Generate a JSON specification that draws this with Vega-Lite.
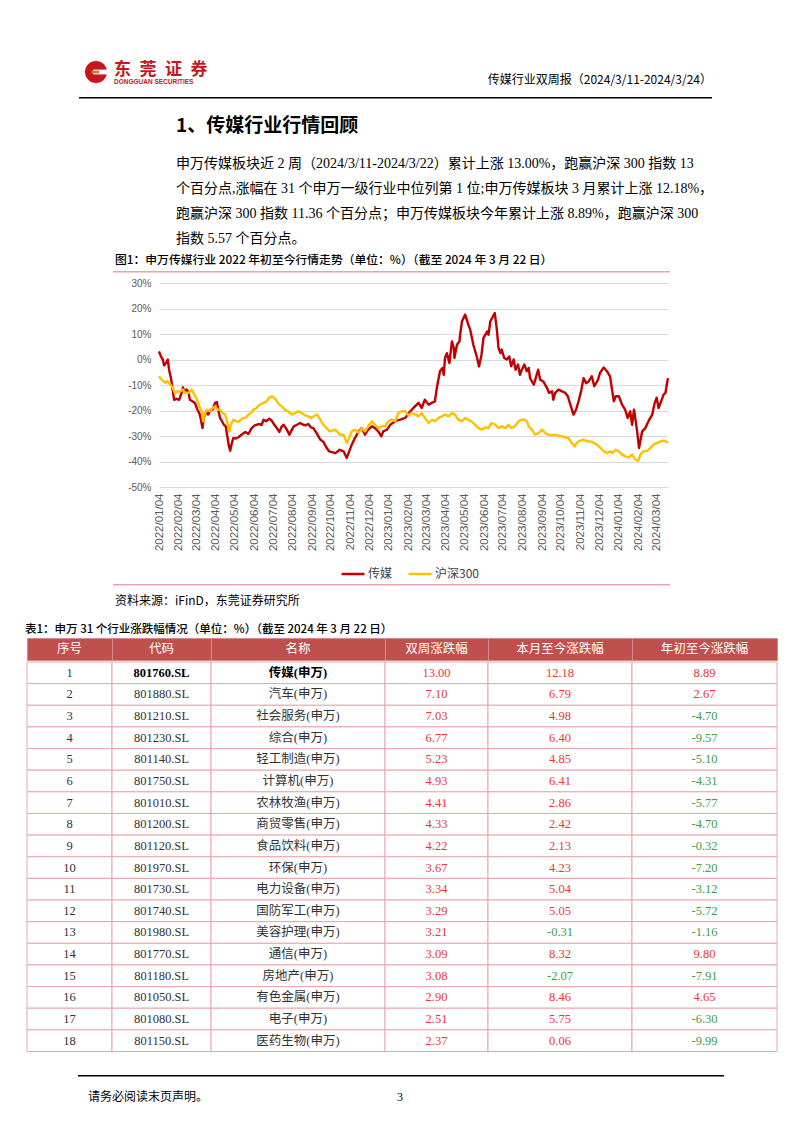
{
"$schema": "https://vega.github.io/schema/vega-lite/v6.json",
"background": "white",
"padding": 0,
"spacing": 0,
"config": {"view": {"stroke": null}, "concat": {"spacing": 0}, "font": "Noto Sans CJK SC",
  "locale": {"number": {"decimal": ".", "thousands": ",", "grouping": [3], "currency": ["", ""], "minus": "-"}}},
"datasets": {
"tbl": [
{"rank":1,"code":"801760.SL","name":"传媒(申万)","w2":13.00,"mtd":12.18,"ytd":8.89},
{"rank":2,"code":"801880.SL","name":"汽车(申万)","w2":7.10,"mtd":6.79,"ytd":2.67},
{"rank":3,"code":"801210.SL","name":"社会服务(申万)","w2":7.03,"mtd":4.98,"ytd":-4.70},
{"rank":4,"code":"801230.SL","name":"综合(申万)","w2":6.77,"mtd":6.40,"ytd":-9.57},
{"rank":5,"code":"801140.SL","name":"轻工制造(申万)","w2":5.23,"mtd":4.85,"ytd":-5.10},
{"rank":6,"code":"801750.SL","name":"计算机(申万)","w2":4.93,"mtd":6.41,"ytd":-4.31},
{"rank":7,"code":"801010.SL","name":"农林牧渔(申万)","w2":4.41,"mtd":2.86,"ytd":-5.77},
{"rank":8,"code":"801200.SL","name":"商贸零售(申万)","w2":4.33,"mtd":2.42,"ytd":-4.70},
{"rank":9,"code":"801120.SL","name":"食品饮料(申万)","w2":4.22,"mtd":2.13,"ytd":-0.32},
{"rank":10,"code":"801970.SL","name":"环保(申万)","w2":3.67,"mtd":4.23,"ytd":-7.20},
{"rank":11,"code":"801730.SL","name":"电力设备(申万)","w2":3.34,"mtd":5.04,"ytd":-3.12},
{"rank":12,"code":"801740.SL","name":"国防军工(申万)","w2":3.29,"mtd":5.05,"ytd":-5.72},
{"rank":13,"code":"801980.SL","name":"美容护理(申万)","w2":3.21,"mtd":-0.31,"ytd":-1.16},
{"rank":14,"code":"801770.SL","name":"通信(申万)","w2":3.09,"mtd":8.32,"ytd":9.80},
{"rank":15,"code":"801180.SL","name":"房地产(申万)","w2":3.08,"mtd":-2.07,"ytd":-7.91},
{"rank":16,"code":"801050.SL","name":"有色金属(申万)","w2":2.90,"mtd":8.46,"ytd":4.65},
{"rank":17,"code":"801080.SL","name":"电子(申万)","w2":2.51,"mtd":5.75,"ytd":-6.30},
{"rank":18,"code":"801150.SL","name":"医药生物(申万)","w2":2.37,"mtd":0.06,"ytd":-9.99}
],
"lines": [
{"s":"传媒","d":"2022-01-04","v":3.2},{"s":"传媒","d":"2022-01-07","v":1.2},{"s":"传媒","d":"2022-01-10","v":0},{"s":"传媒","d":"2022-01-12","v":-2.3},{"s":"传媒","d":"2022-01-15","v":-1.4},{"s":"传媒","d":"2022-01-18","v":0},{"s":"传媒","d":"2022-01-20","v":-4},{"s":"传媒","d":"2022-01-23","v":-7.3},{"s":"传媒","d":"2022-01-26","v":-12.5},{"s":"传媒","d":"2022-01-28","v":-15.8},
{"s":"传媒","d":"2022-02-01","v":-15.4},{"s":"传媒","d":"2022-02-05","v":-15.8},{"s":"传媒","d":"2022-02-08","v":-13.8},{"s":"传媒","d":"2022-02-11","v":-10.9},{"s":"传媒","d":"2022-02-13","v":-12.5},{"s":"传媒","d":"2022-02-17","v":-11.8},{"s":"传媒","d":"2022-02-20","v":-13.1},{"s":"传媒","d":"2022-02-22","v":-15.8},{"s":"传媒","d":"2022-02-26","v":-16.4},
{"s":"传媒","d":"2022-03-02","v":-17},{"s":"传媒","d":"2022-03-06","v":-19.7},{"s":"传媒","d":"2022-03-09","v":-21},{"s":"传媒","d":"2022-03-11","v":-23},{"s":"传媒","d":"2022-03-14","v":-26.9},{"s":"传媒","d":"2022-03-16","v":-23},{"s":"传媒","d":"2022-03-20","v":-20.3},{"s":"传媒","d":"2022-03-23","v":-21.6},{"s":"传媒","d":"2022-03-27","v":-19.7},{"s":"传媒","d":"2022-03-30","v":-19.7},
{"s":"传媒","d":"2022-04-03","v":-17},{"s":"传媒","d":"2022-04-06","v":-16.7},{"s":"传媒","d":"2022-04-08","v":-19.7},{"s":"传媒","d":"2022-04-11","v":-23},{"s":"传媒","d":"2022-04-13","v":-23.7},{"s":"传媒","d":"2022-04-17","v":-25.6},{"s":"传媒","d":"2022-04-20","v":-26.2},{"s":"传媒","d":"2022-04-22","v":-29.5},{"s":"传媒","d":"2022-04-25","v":-34},{"s":"传媒","d":"2022-04-27","v":-35.8},{"s":"传媒","d":"2022-04-29","v":-33.4},
{"s":"传媒","d":"2022-05-02","v":-30.8},{"s":"传媒","d":"2022-05-06","v":-31},{"s":"传媒","d":"2022-05-10","v":-30.5},{"s":"传媒","d":"2022-05-15","v":-29.5},{"s":"传媒","d":"2022-05-21","v":-28.4},{"s":"传媒","d":"2022-05-26","v":-29.2},{"s":"传媒","d":"2022-05-31","v":-26.9},
{"s":"传媒","d":"2022-06-05","v":-25.8},{"s":"传媒","d":"2022-06-11","v":-25.3},{"s":"传媒","d":"2022-06-16","v":-25.6},{"s":"传媒","d":"2022-06-19","v":-23.6},{"s":"传媒","d":"2022-06-23","v":-24.2},{"s":"传媒","d":"2022-06-28","v":-23.2},
{"s":"传媒","d":"2022-07-02","v":-24},{"s":"传媒","d":"2022-07-06","v":-25.6},{"s":"传媒","d":"2022-07-10","v":-26.9},{"s":"传媒","d":"2022-07-14","v":-28.4},{"s":"传媒","d":"2022-07-18","v":-26.2},{"s":"传媒","d":"2022-07-21","v":-25.6},{"s":"传媒","d":"2022-07-26","v":-27.5},{"s":"传媒","d":"2022-07-30","v":-29.5},
{"s":"传媒","d":"2022-08-03","v":-27.5},{"s":"传媒","d":"2022-08-06","v":-26.2},{"s":"传媒","d":"2022-08-11","v":-25.6},{"s":"传媒","d":"2022-08-16","v":-24.9},{"s":"传媒","d":"2022-08-21","v":-25.6},{"s":"传媒","d":"2022-08-25","v":-25.8},{"s":"传媒","d":"2022-08-29","v":-25.3},
{"s":"传媒","d":"2022-09-02","v":-26.6},{"s":"传媒","d":"2022-09-06","v":-26.9},{"s":"传媒","d":"2022-09-11","v":-28.8},{"s":"传媒","d":"2022-09-17","v":-31.4},{"s":"传媒","d":"2022-09-22","v":-32.3},{"s":"传媒","d":"2022-09-27","v":-34.6},
{"s":"传媒","d":"2022-10-01","v":-36},{"s":"传媒","d":"2022-10-11","v":-36.7},{"s":"传媒","d":"2022-10-18","v":-35.4},{"s":"传媒","d":"2022-10-24","v":-36},{"s":"传媒","d":"2022-10-29","v":-38.6},
{"s":"传媒","d":"2022-11-06","v":-33.4},{"s":"传媒","d":"2022-11-11","v":-30.8},{"s":"传媒","d":"2022-11-17","v":-28.2},{"s":"传媒","d":"2022-11-22","v":-26.9},{"s":"传媒","d":"2022-11-27","v":-29.5},
{"s":"传媒","d":"2022-12-02","v":-27.5},{"s":"传媒","d":"2022-12-08","v":-26.2},{"s":"传媒","d":"2022-12-13","v":-26.9},{"s":"传媒","d":"2022-12-18","v":-28.2},{"s":"传媒","d":"2022-12-23","v":-30.1},{"s":"传媒","d":"2022-12-26","v":-28.2},
{"s":"传媒","d":"2023-01-01","v":-27.5},{"s":"传媒","d":"2023-01-06","v":-25.6},{"s":"传媒","d":"2023-01-14","v":-24.2},{"s":"传媒","d":"2023-01-22","v":-23.6},{"s":"传媒","d":"2023-01-30","v":-22.9},
{"s":"传媒","d":"2023-02-07","v":-20.3},{"s":"传媒","d":"2023-02-12","v":-19},{"s":"传媒","d":"2023-02-20","v":-17},{"s":"传媒","d":"2023-02-25","v":-19},
{"s":"传媒","d":"2023-03-02","v":-15.8},{"s":"传媒","d":"2023-03-08","v":-17.7},{"s":"传媒","d":"2023-03-13","v":-17},{"s":"传媒","d":"2023-03-18","v":-16.4},{"s":"传媒","d":"2023-03-21","v":-11.2},{"s":"传媒","d":"2023-03-26","v":-4.6},{"s":"传媒","d":"2023-03-30","v":-3.3},
{"s":"传媒","d":"2023-04-01","v":-6},{"s":"传媒","d":"2023-04-03","v":0.6},{"s":"传媒","d":"2023-04-06","v":2.5},{"s":"传媒","d":"2023-04-10","v":-1.4},{"s":"传媒","d":"2023-04-14","v":7.1},{"s":"传媒","d":"2023-04-17","v":4.5},{"s":"传媒","d":"2023-04-18","v":0.6},{"s":"传媒","d":"2023-04-22","v":5.8},{"s":"传媒","d":"2023-04-26","v":7.1},{"s":"传媒","d":"2023-04-27","v":9.7},{"s":"传媒","d":"2023-04-30","v":15},
{"s":"传媒","d":"2023-05-05","v":17.6},{"s":"传媒","d":"2023-05-10","v":13.7},{"s":"传媒","d":"2023-05-13","v":11.7},{"s":"传媒","d":"2023-05-18","v":5.8},{"s":"传媒","d":"2023-05-24","v":0.6},{"s":"传媒","d":"2023-05-27","v":-2.7},{"s":"传媒","d":"2023-05-31","v":1.9},
{"s":"传媒","d":"2023-06-03","v":8.4},{"s":"传媒","d":"2023-06-09","v":11},{"s":"传媒","d":"2023-06-11","v":9.7},{"s":"传媒","d":"2023-06-14","v":15},{"s":"传媒","d":"2023-06-21","v":18.2},{"s":"传媒","d":"2023-06-24","v":12.4},{"s":"传媒","d":"2023-06-27","v":4.5},{"s":"传媒","d":"2023-06-30","v":2.5},
{"s":"传媒","d":"2023-07-02","v":3.9},{"s":"传媒","d":"2023-07-06","v":0.6},{"s":"传媒","d":"2023-07-10","v":0},{"s":"传媒","d":"2023-07-14","v":1.2},{"s":"传媒","d":"2023-07-17","v":-2.7},{"s":"传媒","d":"2023-07-21","v":0},{"s":"传媒","d":"2023-07-24","v":-4},{"s":"传媒","d":"2023-07-28","v":-2},{"s":"传媒","d":"2023-07-31","v":-6},
{"s":"传媒","d":"2023-08-03","v":-4},{"s":"传媒","d":"2023-08-07","v":-2},{"s":"传媒","d":"2023-08-11","v":-4.6},{"s":"传媒","d":"2023-08-14","v":-3.3},{"s":"传媒","d":"2023-08-16","v":-7.3},{"s":"传媒","d":"2023-08-22","v":-9.9},{"s":"传媒","d":"2023-08-25","v":-7.3},{"s":"传媒","d":"2023-08-29","v":-4},
{"s":"传媒","d":"2023-09-01","v":-7.9},{"s":"传媒","d":"2023-09-06","v":-8.6},{"s":"传媒","d":"2023-09-12","v":-11.2},{"s":"传媒","d":"2023-09-15","v":-13.1},{"s":"传媒","d":"2023-09-20","v":-12.5},{"s":"传媒","d":"2023-09-22","v":-15.8},{"s":"传媒","d":"2023-09-25","v":-13.1},{"s":"传媒","d":"2023-09-30","v":-11.8},
{"s":"传媒","d":"2023-10-06","v":-12.5},{"s":"传媒","d":"2023-10-11","v":-13.1},{"s":"传媒","d":"2023-10-15","v":-14.4},{"s":"传媒","d":"2023-10-19","v":-17.7},{"s":"传媒","d":"2023-10-24","v":-21.6},{"s":"传媒","d":"2023-10-28","v":-19.7},
{"s":"传媒","d":"2023-11-01","v":-16.4},{"s":"传媒","d":"2023-11-05","v":-12.5},{"s":"传媒","d":"2023-11-09","v":-7.3},{"s":"传媒","d":"2023-11-13","v":-9.3},{"s":"传媒","d":"2023-11-17","v":-8.6},{"s":"传媒","d":"2023-11-22","v":-6.6},{"s":"传媒","d":"2023-11-26","v":-10.5},
{"s":"传媒","d":"2023-12-02","v":-7.9},{"s":"传媒","d":"2023-12-05","v":-5.3},{"s":"传媒","d":"2023-12-11","v":-3.1},{"s":"传媒","d":"2023-12-16","v":-4.6},{"s":"传媒","d":"2023-12-21","v":-6.6},{"s":"传媒","d":"2023-12-27","v":-16.4},{"s":"传媒","d":"2023-12-30","v":-14.4},
{"s":"传媒","d":"2024-01-04","v":-14.4},{"s":"传媒","d":"2024-01-09","v":-17.7},{"s":"传媒","d":"2024-01-14","v":-19.7},{"s":"传媒","d":"2024-01-18","v":-22.9},{"s":"传媒","d":"2024-01-22","v":-20.3},{"s":"传媒","d":"2024-01-25","v":-25.6},{"s":"传媒","d":"2024-01-28","v":-19.7},{"s":"传媒","d":"2024-01-30","v":-22.9},
{"s":"传媒","d":"2024-02-02","v":-28.2},{"s":"传媒","d":"2024-02-05","v":-34.7},{"s":"传媒","d":"2024-02-10","v":-28.2},{"s":"传媒","d":"2024-02-15","v":-26.9},{"s":"传媒","d":"2024-02-20","v":-24.2},{"s":"传媒","d":"2024-02-26","v":-21.6},
{"s":"传媒","d":"2024-03-01","v":-17},{"s":"传媒","d":"2024-03-04","v":-15},{"s":"传媒","d":"2024-03-07","v":-19},{"s":"传媒","d":"2024-03-11","v":-16.4},{"s":"传媒","d":"2024-03-15","v":-13.8},{"s":"传媒","d":"2024-03-18","v":-13.1},{"s":"传媒","d":"2024-03-20","v":-9.9},{"s":"传媒","d":"2024-03-22","v":-7.3},
{"s":"沪深300","d":"2022-01-04","v":-6.6},{"s":"沪深300","d":"2022-01-08","v":-7.9},{"s":"沪深300","d":"2022-01-14","v":-9.2},{"s":"沪深300","d":"2022-01-17","v":-8.5},{"s":"沪深300","d":"2022-01-22","v":-9.9},{"s":"沪深300","d":"2022-01-26","v":-11.2},{"s":"沪深300","d":"2022-01-29","v":-13.1},
{"s":"沪深300","d":"2022-02-02","v":-12.5},{"s":"沪深300","d":"2022-02-06","v":-12.5},{"s":"沪深300","d":"2022-02-11","v":-11.8},{"s":"沪深300","d":"2022-02-14","v":-13.1},{"s":"沪深300","d":"2022-02-20","v":-13.1},{"s":"沪深300","d":"2022-02-25","v":-11.8},
{"s":"沪深300","d":"2022-03-01","v":-13.8},{"s":"沪深300","d":"2022-03-05","v":-15.4},{"s":"沪深300","d":"2022-03-09","v":-18.4},{"s":"沪深300","d":"2022-03-13","v":-20.3},{"s":"沪深300","d":"2022-03-15","v":-24.2},{"s":"沪深300","d":"2022-03-18","v":-21},{"s":"沪深300","d":"2022-03-22","v":-19.7},{"s":"沪深300","d":"2022-03-26","v":-20.3},{"s":"沪深300","d":"2022-03-30","v":-19},
{"s":"沪深300","d":"2022-04-03","v":-18.4},{"s":"沪深300","d":"2022-04-07","v":-19.7},{"s":"沪深300","d":"2022-04-11","v":-19.7},{"s":"沪深300","d":"2022-04-15","v":-21},{"s":"沪深300","d":"2022-04-19","v":-21.6},{"s":"沪深300","d":"2022-04-22","v":-24.2},{"s":"沪深300","d":"2022-04-26","v":-28.2},{"s":"沪深300","d":"2022-04-28","v":-25.6},
{"s":"沪深300","d":"2022-05-02","v":-23.6},{"s":"沪深300","d":"2022-05-06","v":-24.2},{"s":"沪深300","d":"2022-05-10","v":-24.5},{"s":"沪深300","d":"2022-05-14","v":-23.6},{"s":"沪深300","d":"2022-05-18","v":-22.9},{"s":"沪深300","d":"2022-05-22","v":-22.9},{"s":"沪深300","d":"2022-05-26","v":-21.6},{"s":"沪深300","d":"2022-05-30","v":-21},
{"s":"沪深300","d":"2022-06-03","v":-19.7},{"s":"沪深300","d":"2022-06-08","v":-19},{"s":"沪深300","d":"2022-06-13","v":-17.7},{"s":"沪深300","d":"2022-06-19","v":-17},{"s":"沪深300","d":"2022-06-24","v":-16.4},{"s":"沪深300","d":"2022-06-28","v":-15},
{"s":"沪深300","d":"2022-07-02","v":-14.4},{"s":"沪深300","d":"2022-07-06","v":-15},{"s":"沪深300","d":"2022-07-10","v":-16.4},{"s":"沪深300","d":"2022-07-14","v":-17.7},{"s":"沪深300","d":"2022-07-18","v":-18.4},{"s":"沪深300","d":"2022-07-23","v":-19.7},{"s":"沪深300","d":"2022-07-28","v":-20.3},
{"s":"沪深300","d":"2022-08-03","v":-21.6},{"s":"沪深300","d":"2022-08-08","v":-21},{"s":"沪深300","d":"2022-08-13","v":-20.3},{"s":"沪深300","d":"2022-08-19","v":-21},{"s":"沪深300","d":"2022-08-24","v":-21.9},{"s":"沪深300","d":"2022-08-29","v":-22.3},
{"s":"沪深300","d":"2022-09-03","v":-22.9},{"s":"沪深300","d":"2022-09-09","v":-21.9},{"s":"沪深300","d":"2022-09-12","v":-21.6},{"s":"沪深300","d":"2022-09-17","v":-23.6},{"s":"沪深300","d":"2022-09-22","v":-25.6},{"s":"沪深300","d":"2022-09-27","v":-26.9},
{"s":"沪深300","d":"2022-10-02","v":-28.2},{"s":"沪深300","d":"2022-10-11","v":-27.5},{"s":"沪深300","d":"2022-10-18","v":-29.5},{"s":"沪深300","d":"2022-10-24","v":-29.5},{"s":"沪深300","d":"2022-10-29","v":-32.7},
{"s":"沪深300","d":"2022-11-02","v":-30.8},{"s":"沪深300","d":"2022-11-06","v":-28.2},{"s":"沪深300","d":"2022-11-11","v":-27.5},{"s":"沪深300","d":"2022-11-17","v":-28.8},{"s":"沪深300","d":"2022-11-22","v":-26.9},{"s":"沪深300","d":"2022-11-27","v":-28.2},
{"s":"沪深300","d":"2022-12-02","v":-26.2},{"s":"沪深300","d":"2022-12-08","v":-24.2},{"s":"沪深300","d":"2022-12-13","v":-25.6},{"s":"沪深300","d":"2022-12-18","v":-26.9},{"s":"沪深300","d":"2022-12-24","v":-26.2},{"s":"沪深300","d":"2022-12-29","v":-26.2},
{"s":"沪深300","d":"2023-01-03","v":-24.2},{"s":"沪深300","d":"2023-01-08","v":-23.6},{"s":"沪深300","d":"2023-01-14","v":-24.2},{"s":"沪深300","d":"2023-01-19","v":-21},{"s":"沪深300","d":"2023-01-24","v":-20.3},{"s":"沪深300","d":"2023-01-30","v":-20.3},
{"s":"沪深300","d":"2023-02-04","v":-21.9},{"s":"沪深300","d":"2023-02-09","v":-21},{"s":"沪深300","d":"2023-02-15","v":-21.6},{"s":"沪深300","d":"2023-02-20","v":-22.3},{"s":"沪深300","d":"2023-02-25","v":-21},
{"s":"沪深300","d":"2023-03-02","v":-22.9},{"s":"沪深300","d":"2023-03-08","v":-24.9},{"s":"沪深300","d":"2023-03-13","v":-23.6},{"s":"沪深300","d":"2023-03-18","v":-24.2},{"s":"沪深300","d":"2023-03-24","v":-22.9},{"s":"沪深300","d":"2023-03-29","v":-22.3},
{"s":"沪深300","d":"2023-04-03","v":-21.6},{"s":"沪深300","d":"2023-04-09","v":-22.3},{"s":"沪深300","d":"2023-04-14","v":-21},{"s":"沪深300","d":"2023-04-19","v":-21.6},{"s":"沪深300","d":"2023-04-24","v":-23.6},{"s":"沪深300","d":"2023-04-30","v":-24.2},
{"s":"沪深300","d":"2023-05-05","v":-22.9},{"s":"沪深300","d":"2023-05-10","v":-23.6},{"s":"沪深300","d":"2023-05-16","v":-24.5},{"s":"沪深300","d":"2023-05-21","v":-25.6},{"s":"沪深300","d":"2023-05-26","v":-26.9},
{"s":"沪深300","d":"2023-06-01","v":-27.5},{"s":"沪深300","d":"2023-06-06","v":-26.6},{"s":"沪深300","d":"2023-06-11","v":-26.9},{"s":"沪深300","d":"2023-06-16","v":-24.9},{"s":"沪深300","d":"2023-06-22","v":-25.6},{"s":"沪深300","d":"2023-06-27","v":-26.9},
{"s":"沪深300","d":"2023-07-02","v":-26.2},{"s":"沪深300","d":"2023-07-08","v":-26.9},{"s":"沪深300","d":"2023-07-13","v":-25.6},{"s":"沪深300","d":"2023-07-18","v":-26.9},{"s":"沪深300","d":"2023-07-23","v":-26.2},{"s":"沪深300","d":"2023-07-29","v":-24.2},
{"s":"沪深300","d":"2023-08-02","v":-23.6},{"s":"沪深300","d":"2023-08-07","v":-23.6},{"s":"沪深300","d":"2023-08-11","v":-24.2},{"s":"沪深300","d":"2023-08-14","v":-26.2},{"s":"沪深300","d":"2023-08-19","v":-27.5},{"s":"沪深300","d":"2023-08-24","v":-29.5},{"s":"沪深300","d":"2023-08-30","v":-28.8},
{"s":"沪深300","d":"2023-09-04","v":-27.5},{"s":"沪深300","d":"2023-09-09","v":-28.8},{"s":"沪深300","d":"2023-09-14","v":-29.5},{"s":"沪深300","d":"2023-09-20","v":-29.7},{"s":"沪深300","d":"2023-09-25","v":-29.5},{"s":"沪深300","d":"2023-09-30","v":-29.9},
{"s":"沪深300","d":"2023-10-06","v":-30.1},{"s":"沪深300","d":"2023-10-11","v":-30.5},{"s":"沪深300","d":"2023-10-16","v":-30.8},{"s":"沪深300","d":"2023-10-21","v":-32.7},{"s":"沪深300","d":"2023-10-26","v":-34.1},{"s":"沪深300","d":"2023-10-29","v":-32.7},
{"s":"沪深300","d":"2023-11-04","v":-31.8},{"s":"沪深300","d":"2023-11-09","v":-31.4},{"s":"沪深300","d":"2023-11-14","v":-32.1},{"s":"沪深300","d":"2023-11-20","v":-32.1},{"s":"沪深300","d":"2023-11-25","v":-32.7},{"s":"沪深300","d":"2023-11-30","v":-33.4},
{"s":"沪深300","d":"2023-12-06","v":-34.7},{"s":"沪深300","d":"2023-12-11","v":-36},{"s":"沪深300","d":"2023-12-16","v":-36.7},{"s":"沪深300","d":"2023-12-21","v":-36},{"s":"沪深300","d":"2023-12-25","v":-36.7},{"s":"沪深300","d":"2023-12-30","v":-35.4},
{"s":"沪深300","d":"2024-01-04","v":-36},{"s":"沪深300","d":"2024-01-09","v":-37.3},{"s":"沪深300","d":"2024-01-14","v":-38},{"s":"沪深300","d":"2024-01-20","v":-38.4},{"s":"沪深300","d":"2024-01-25","v":-37.3},{"s":"沪深300","d":"2024-01-30","v":-39.3},
{"s":"沪深300","d":"2024-02-04","v":-39.7},{"s":"沪深300","d":"2024-02-07","v":-37.3},{"s":"沪深300","d":"2024-02-12","v":-36},{"s":"沪深300","d":"2024-02-18","v":-35.8},{"s":"沪深300","d":"2024-02-23","v":-34.7},{"s":"沪深300","d":"2024-02-28","v":-33.4},
{"s":"沪深300","d":"2024-03-05","v":-32.7},{"s":"沪深300","d":"2024-03-10","v":-32.1},{"s":"沪深300","d":"2024-03-15","v":-31.8},{"s":"沪深300","d":"2024-03-20","v":-32.3},{"s":"沪深300","d":"2024-03-22","v":-32.7}
]
},
"vconcat": [
{"width": 802, "height": 60, "data": {"values": [{}]}, "mark": {"type": "text", "text": "", "fontSize": 0}},
{"hconcat": [
  {"width": 84, "height": 36.75, "data": {"values": [{}]}, "mark": {"type": "text", "text": "", "fontSize": 0}},
  {"width": 24, "height": 24, "data": {"values": [{}]}, "layer": [
    {"mark": {"type": "point", "shape": "circle", "size": 484, "filled": true, "color": "#C8161D", "opacity": 1}},
    {"mark": {"type": "point", "shape": "M -0.25 -0.22 L 1.05 -0.22 L 1.05 0.22 L -0.25 0.22 Z", "size": 484, "filled": true, "color": "#FFFFFF", "opacity": 1}},
    {"mark": {"type": "point", "shape": "M -0.4 -0.13 L 0.3 -0.13 L 0.3 0.13 L -0.4 0.13 Z", "size": 484, "filled": true, "color": "#B8864B", "opacity": 1}}
  ]},
  {"width": 6, "height": 36.75, "data": {"values": [{}]}, "mark": {"type": "text", "text": "", "fontSize": 0}},
  {"width": 200, "height": 36.75, "data": {"values": [{}]}, "mark": {"type": "text", "text": "", "fontSize": 0},
   "title": {"text": "东\u2002莞\u2002证\u2002券", "subtitle": "DONGGUAN SECURITIES", "orient": "bottom", "anchor": "start", "frame": "group", "offset": -34.75,
     "font": "Noto Sans CJK SC", "fontSize": 17, "fontWeight": "bold", "color": "#C8161D",
     "subtitleFont": "Liberation Sans", "subtitleFontSize": 6.5, "subtitleFontWeight": "bold", "subtitleColor": "#C8161D", "subtitlePadding": 0}},
  {"width": 398, "height": 36.75, "data": {"values": [{}]}, "mark": {"type": "text", "text": "", "fontSize": 0},
   "title": {"text": "传媒行业双周报（2024/3/11-2024/3/24）", "orient": "bottom", "anchor": "end", "frame": "group", "offset": -21.85,
     "font": "Noto Sans CJK SC", "fontSize": 12, "fontWeight": "normal", "color": "#000000"}}
 ], "spacing": 0, "bounds": "flush"},
{"hconcat": [
  {"width": 79, "height": 1.5, "data": {"values": [{}]}, "mark": {"type": "text", "text": "", "fontSize": 0}},
  {"width": 633, "height": 1.5, "view": {"fill": "#000000", "stroke": null}, "data": {"values": [{}]}, "mark": {"type": "text", "text": "", "fontSize": 0}}
 ], "spacing": 0, "bounds": "flush"},
{"hconcat": [
  {"width": 176, "height": 41.75, "data": {"values": [{}]}, "mark": {"type": "text", "text": "", "fontSize": 0}},
  {"width": 540, "height": 41.75, "data": {"values": [{}]}, "mark": {"type": "text", "text": "", "fontSize": 0},
   "title": {"text": "1、传媒行业行情回顾", "orient": "bottom", "anchor": "start", "frame": "group", "offset": -23.8,
     "font": "Noto Sans CJK SC", "fontSize": 19, "fontWeight": "bold", "color": "#000000"}}
 ], "spacing": 0, "bounds": "flush"},
{"hconcat": [
  {"width": 176, "height": 105, "data": {"values": [{}]}, "mark": {"type": "text", "text": "", "fontSize": 0}},
  {"width": 540, "height": 105, "data": {"values": [{}]}, "mark": {"type": "text", "text": "", "fontSize": 0},
   "title": {"text": ["申万传媒板块近 2 周（2024/3/11-2024/3/22）累计上涨 13.00%，跑赢沪深 300 指数 13",
                  "个百分点,涨幅在 31 个申万一级行业中位列第 1 位;申万传媒板块 3 月累计上涨 12.18%，",
                  "跑赢沪深 300 指数 11.36 个百分点；申万传媒板块今年累计上涨 8.89%，跑赢沪深 300",
                  "指数 5.57 个百分点。"],
     "orient": "bottom", "anchor": "start", "frame": "group", "offset": -89.44, "lineHeight": 25.3,
     "font": "Liberation Serif, Noto Sans CJK SC", "fontSize": 14, "fontWeight": "normal", "color": "#000000"}}
 ], "spacing": 0, "bounds": "flush"},
{"hconcat": [
  {"width": 115, "height": 23.25, "data": {"values": [{}]}, "mark": {"type": "text", "text": "", "fontSize": 0}},
  {"width": 560, "height": 23.25, "data": {"values": [{}]}, "mark": {"type": "text", "text": "", "fontSize": 0},
   "title": {"text": "图1：申万传媒行业 2022 年初至今行情走势（单位：%）（截至 2024 年 3 月 22 日）", "orient": "bottom", "anchor": "start", "frame": "group", "offset": -15.35,
     "font": "Noto Sans CJK SC", "fontSize": 11.8, "fontWeight": 500, "color": "#000000"}}
 ], "spacing": 0, "bounds": "flush"},
{"hconcat": [
  {"width": 113, "height": 1.5, "data": {"values": [{}]}, "mark": {"type": "text", "text": "", "fontSize": 0}},
  {"width": 557, "height": 1.5, "view": {"fill": "#E9A3AC", "stroke": null}, "data": {"values": [{}]}, "mark": {"type": "text", "text": "", "fontSize": 0}}
 ], "spacing": 0, "bounds": "flush"},
{"width": 802, "height": 5, "data": {"values": [{}]}, "mark": {"type": "text", "text": "", "fontSize": 0}},
{"hconcat": [
  {"width": 159, "height": 301, "data": {"values": [{}]}, "mark": {"type": "text", "text": "", "fontSize": 0}},
  {"width": 509, "height": 204, "data": {"name": "lines"},
   "mark": {"type": "line", "strokeWidth": 2.4, "strokeJoin": "round"},
   "encoding": {
     "x": {"field": "d", "type": "temporal",
       "scale": {"type": "utc", "domain": [{"year": 2022, "month": 1, "date": 4, "utc": true}, {"year": 2024, "month": 3, "date": 22, "utc": true}]},
       "axis": {"values": [
         {"year":2022,"month":1,"date":4,"utc":true},{"year":2022,"month":2,"date":4,"utc":true},{"year":2022,"month":3,"date":4,"utc":true},{"year":2022,"month":4,"date":4,"utc":true},{"year":2022,"month":5,"date":4,"utc":true},{"year":2022,"month":6,"date":4,"utc":true},{"year":2022,"month":7,"date":4,"utc":true},{"year":2022,"month":8,"date":4,"utc":true},{"year":2022,"month":9,"date":4,"utc":true},{"year":2022,"month":10,"date":4,"utc":true},{"year":2022,"month":11,"date":4,"utc":true},{"year":2022,"month":12,"date":4,"utc":true},
         {"year":2023,"month":1,"date":4,"utc":true},{"year":2023,"month":2,"date":4,"utc":true},{"year":2023,"month":3,"date":4,"utc":true},{"year":2023,"month":4,"date":4,"utc":true},{"year":2023,"month":5,"date":4,"utc":true},{"year":2023,"month":6,"date":4,"utc":true},{"year":2023,"month":7,"date":4,"utc":true},{"year":2023,"month":8,"date":4,"utc":true},{"year":2023,"month":9,"date":4,"utc":true},{"year":2023,"month":10,"date":4,"utc":true},{"year":2023,"month":11,"date":4,"utc":true},{"year":2023,"month":12,"date":4,"utc":true},
         {"year":2024,"month":1,"date":4,"utc":true},{"year":2024,"month":2,"date":4,"utc":true},{"year":2024,"month":3,"date":4,"utc":true}],
         "labelExpr": "utcFormat(datum.value, '%Y/%m/%d')", "labelAngle": 270, "labelAlign": "right", "labelBaseline": "middle", "labelPadding": 6,
         "ticks": false, "domain": false, "grid": false, "title": null, "labelFont": "Liberation Sans", "labelFontSize": 11.5, "labelColor": "#595959", "labelOverlap": false, "labelFlush": false}},
     "y": {"field": "v", "type": "quantitative", "scale": {"domain": [-50, 30], "nice": false, "zero": false},
       "axis": {"values": [-50, -40, -30, -20, -10, 0, 10, 20, 30], "labelExpr": "datum.value + '%'", "grid": true, "gridColor": "#D9D9D9", "gridWidth": 1,
         "domain": false, "ticks": false, "labelPadding": 8, "title": null, "labelFont": "Liberation Sans", "labelFontSize": 10, "labelColor": "#595959", "labelFlush": false}},
     "color": {"field": "s", "type": "nominal", "scale": {"domain": ["传媒", "沪深300"], "range": ["#C00000", "#FFC000"]},
       "legend": {"orient": "none", "legendX": 340, "legendY": 561, "direction": "horizontal", "title": null, "symbolType": "stroke", "symbolStrokeWidth": 2.5, "symbolSize": 529,
         "labelFont": "Noto Sans CJK SC", "labelFontSize": 12, "labelColor": "#404040", "columnPadding": 10, "labelOffset": 2, "padding": 0}}
   }}
 ], "spacing": 0, "bounds": "flush"},
{"hconcat": [
  {"width": 113, "height": 1.5, "data": {"values": [{}]}, "mark": {"type": "text", "text": "", "fontSize": 0}},
  {"width": 557, "height": 1.5, "view": {"fill": "#E9A3AC", "stroke": null}, "data": {"values": [{}]}, "mark": {"type": "text", "text": "", "fontSize": 0}}
 ], "spacing": 0, "bounds": "flush"},
{"hconcat": [
  {"width": 115, "height": 26.5, "data": {"values": [{}]}, "mark": {"type": "text", "text": "", "fontSize": 0}},
  {"width": 400, "height": 26.5, "data": {"values": [{}]}, "mark": {"type": "text", "text": "", "fontSize": 0},
   "title": {"text": "资料来源：iFinD，东莞证券研究所", "orient": "bottom", "anchor": "start", "frame": "group", "offset": -16.9,
     "font": "Noto Sans CJK SC", "fontSize": 12, "fontWeight": "normal", "color": "#000000"}}
 ], "spacing": 0, "bounds": "flush"},
{"hconcat": [
  {"width": 25, "height": 24, "data": {"values": [{}]}, "mark": {"type": "text", "text": "", "fontSize": 0}},
  {"width": 600, "height": 24, "data": {"values": [{}]}, "mark": {"type": "text", "text": "", "fontSize": 0},
   "title": {"text": "表1：申万 31 个行业涨跌幅情况（单位：%）（截至 2024 年 3 月 22 日）", "orient": "bottom", "anchor": "start", "frame": "group", "offset": -12.7,
     "font": "Noto Sans CJK SC", "fontSize": 11.5, "fontWeight": 500, "color": "#000000"}}
 ], "spacing": 0, "bounds": "flush"},
{"hconcat": [
  {"width": 27, "height": 22, "data": {"values": [{}]}, "mark": {"type": "text", "text": "", "fontSize": 0}},
  {"width": 85, "height": 22, "view": {"fill": "#C0504D", "stroke": "#D98A8A"}, "data": {"values": [{"t": "序号"}]}, "mark": {"type": "text", "color": "#FFFFFF", "fontSize": 12.5, "font": "Noto Sans CJK SC"}, "encoding": {"text": {"field": "t"}}},
  {"width": 99, "height": 22, "view": {"fill": "#C0504D", "stroke": "#D98A8A"}, "data": {"values": [{"t": "代码"}]}, "mark": {"type": "text", "color": "#FFFFFF", "fontSize": 12.5, "font": "Noto Sans CJK SC"}, "encoding": {"text": {"field": "t"}}},
  {"width": 174, "height": 22, "view": {"fill": "#C0504D", "stroke": "#D98A8A"}, "data": {"values": [{"t": "名称"}]}, "mark": {"type": "text", "color": "#FFFFFF", "fontSize": 12.5, "font": "Noto Sans CJK SC"}, "encoding": {"text": {"field": "t"}}},
  {"width": 103, "height": 22, "view": {"fill": "#C0504D", "stroke": "#D98A8A"}, "data": {"values": [{"t": "双周涨跌幅"}]}, "mark": {"type": "text", "color": "#FFFFFF", "fontSize": 12.5, "font": "Noto Sans CJK SC"}, "encoding": {"text": {"field": "t"}}},
  {"width": 144, "height": 22, "view": {"fill": "#C0504D", "stroke": "#D98A8A"}, "data": {"values": [{"t": "本月至今涨跌幅"}]}, "mark": {"type": "text", "color": "#FFFFFF", "fontSize": 12.5, "font": "Noto Sans CJK SC"}, "encoding": {"text": {"field": "t"}}},
  {"width": 145, "height": 22, "view": {"fill": "#C0504D", "stroke": "#D98A8A"}, "data": {"values": [{"t": "年初至今涨跌幅"}]}, "mark": {"type": "text", "color": "#FFFFFF", "fontSize": 12.5, "font": "Noto Sans CJK SC"}, "encoding": {"text": {"field": "t"}}}
 ], "spacing": 0, "bounds": "flush"},
{"hconcat": [
  {"width": 27, "height": 389.5, "data": {"values": [{}]}, "mark": {"type": "text", "text": "", "fontSize": 0}},
  {"width": 85, "height": 389.5, "data": {"name": "tbl"},
   "encoding": {"y": {"field": "rank", "type": "ordinal", "axis": null, "scale": {"paddingInner": 0, "paddingOuter": 0}}},
   "layer": [
     {"mark": {"type": "rect", "fill": "#FFFFFF", "stroke": "#E8A6AC", "strokeWidth": 1}},
     {"mark": {"type": "text", "font": "Liberation Serif, Noto Sans CJK SC", "fontSize": 12.5, "color": "#333333"}, "encoding": {"text": {"field": "rank", "type": "nominal"}}}
   ]},
  {"width": 99, "height": 389.5, "data": {"name": "tbl"},
   "encoding": {"y": {"field": "rank", "type": "ordinal", "axis": null, "scale": {"paddingInner": 0, "paddingOuter": 0}}},
   "layer": [
     {"mark": {"type": "rect", "fill": "#FFFFFF", "stroke": "#E8A6AC", "strokeWidth": 1}},
     {"transform": [{"filter": "datum.rank != 1"}], "mark": {"type": "text", "font": "Liberation Serif, Noto Sans CJK SC", "fontSize": 12.5, "color": "#333333"}, "encoding": {"text": {"field": "code", "type": "nominal"}}},
     {"transform": [{"filter": "datum.rank == 1"}], "mark": {"type": "text", "font": "Liberation Serif, Noto Sans CJK SC", "fontSize": 12.5, "fontWeight": "bold", "color": "#000000"}, "encoding": {"text": {"field": "code", "type": "nominal"}}}
   ]},
  {"width": 174, "height": 389.5, "data": {"name": "tbl"},
   "encoding": {"y": {"field": "rank", "type": "ordinal", "axis": null, "scale": {"paddingInner": 0, "paddingOuter": 0}}},
   "layer": [
     {"mark": {"type": "rect", "fill": "#FFFFFF", "stroke": "#E8A6AC", "strokeWidth": 1}},
     {"transform": [{"filter": "datum.rank != 1"}], "mark": {"type": "text", "font": "Liberation Serif, Noto Sans CJK SC", "fontSize": 12.5, "color": "#333333"}, "encoding": {"text": {"field": "name", "type": "nominal"}}},
     {"transform": [{"filter": "datum.rank == 1"}], "mark": {"type": "text", "font": "Liberation Serif, Noto Sans CJK SC", "fontSize": 12.5, "fontWeight": "bold", "color": "#000000"}, "encoding": {"text": {"field": "name", "type": "nominal"}}}
   ]},
  {"width": 103, "height": 389.5, "data": {"name": "tbl"},
   "encoding": {"y": {"field": "rank", "type": "ordinal", "axis": null, "scale": {"paddingInner": 0, "paddingOuter": 0}}},
   "layer": [
     {"mark": {"type": "rect", "fill": "#FFFFFF", "stroke": "#E8A6AC", "strokeWidth": 1}},
     {"mark": {"type": "text", "font": "Liberation Serif, Noto Sans CJK SC", "fontSize": 12.5},
      "encoding": {"text": {"field": "w2", "type": "quantitative", "format": ".2f"}, "color": {"condition": {"test": "datum.w2 > 0", "value": "#E53935"}, "value": "#3E9E3E"}}}
   ]},
  {"width": 144, "height": 389.5, "data": {"name": "tbl"},
   "encoding": {"y": {"field": "rank", "type": "ordinal", "axis": null, "scale": {"paddingInner": 0, "paddingOuter": 0}}},
   "layer": [
     {"mark": {"type": "rect", "fill": "#FFFFFF", "stroke": "#E8A6AC", "strokeWidth": 1}},
     {"mark": {"type": "text", "font": "Liberation Serif, Noto Sans CJK SC", "fontSize": 12.5},
      "encoding": {"text": {"field": "mtd", "type": "quantitative", "format": ".2f"}, "color": {"condition": {"test": "datum.mtd > 0", "value": "#E53935"}, "value": "#3E9E3E"}}}
   ]},
  {"width": 145, "height": 389.5, "data": {"name": "tbl"},
   "encoding": {"y": {"field": "rank", "type": "ordinal", "axis": null, "scale": {"paddingInner": 0, "paddingOuter": 0}}},
   "layer": [
     {"mark": {"type": "rect", "fill": "#FFFFFF", "stroke": "#E8A6AC", "strokeWidth": 1}},
     {"mark": {"type": "text", "font": "Liberation Serif, Noto Sans CJK SC", "fontSize": 12.5},
      "encoding": {"text": {"field": "ytd", "type": "quantitative", "format": ".2f"}, "color": {"condition": {"test": "datum.ytd > 0", "value": "#E53935"}, "value": "#3E9E3E"}}}
   ]}
 ], "spacing": 0, "bounds": "flush"},
{"width": 802, "height": 21.75, "data": {"values": [{}]}, "mark": {"type": "text", "text": "", "fontSize": 0}},
{"hconcat": [
  {"width": 78, "height": 1.5, "data": {"values": [{}]}, "mark": {"type": "text", "text": "", "fontSize": 0}},
  {"width": 646, "height": 1.5, "view": {"fill": "#000000", "stroke": null}, "data": {"values": [{}]}, "mark": {"type": "text", "text": "", "fontSize": 0}}
 ], "spacing": 0, "bounds": "flush"},
{"hconcat": [
  {"width": 88, "height": 60.25, "data": {"values": [{}]}, "mark": {"type": "text", "text": "", "fontSize": 0}},
  {"width": 300, "height": 60.25, "data": {"values": [{}]}, "mark": {"type": "text", "text": "", "fontSize": 0},
   "title": {"text": "请务必阅读末页声明。", "orient": "bottom", "anchor": "start", "frame": "group", "offset": -44.9,
     "font": "Noto Sans CJK SC", "fontSize": 12, "fontWeight": "normal", "color": "#000000"}},
  {"width": 24, "height": 60.25, "data": {"values": [{}]}, "mark": {"type": "text", "text": "", "fontSize": 0},
   "title": {"text": "3", "orient": "bottom", "anchor": "middle", "frame": "group", "offset": -44.9,
     "font": "Liberation Serif", "fontSize": 12, "fontWeight": "normal", "color": "#000000"}}
 ], "spacing": 0, "bounds": "flush"}
]
}
